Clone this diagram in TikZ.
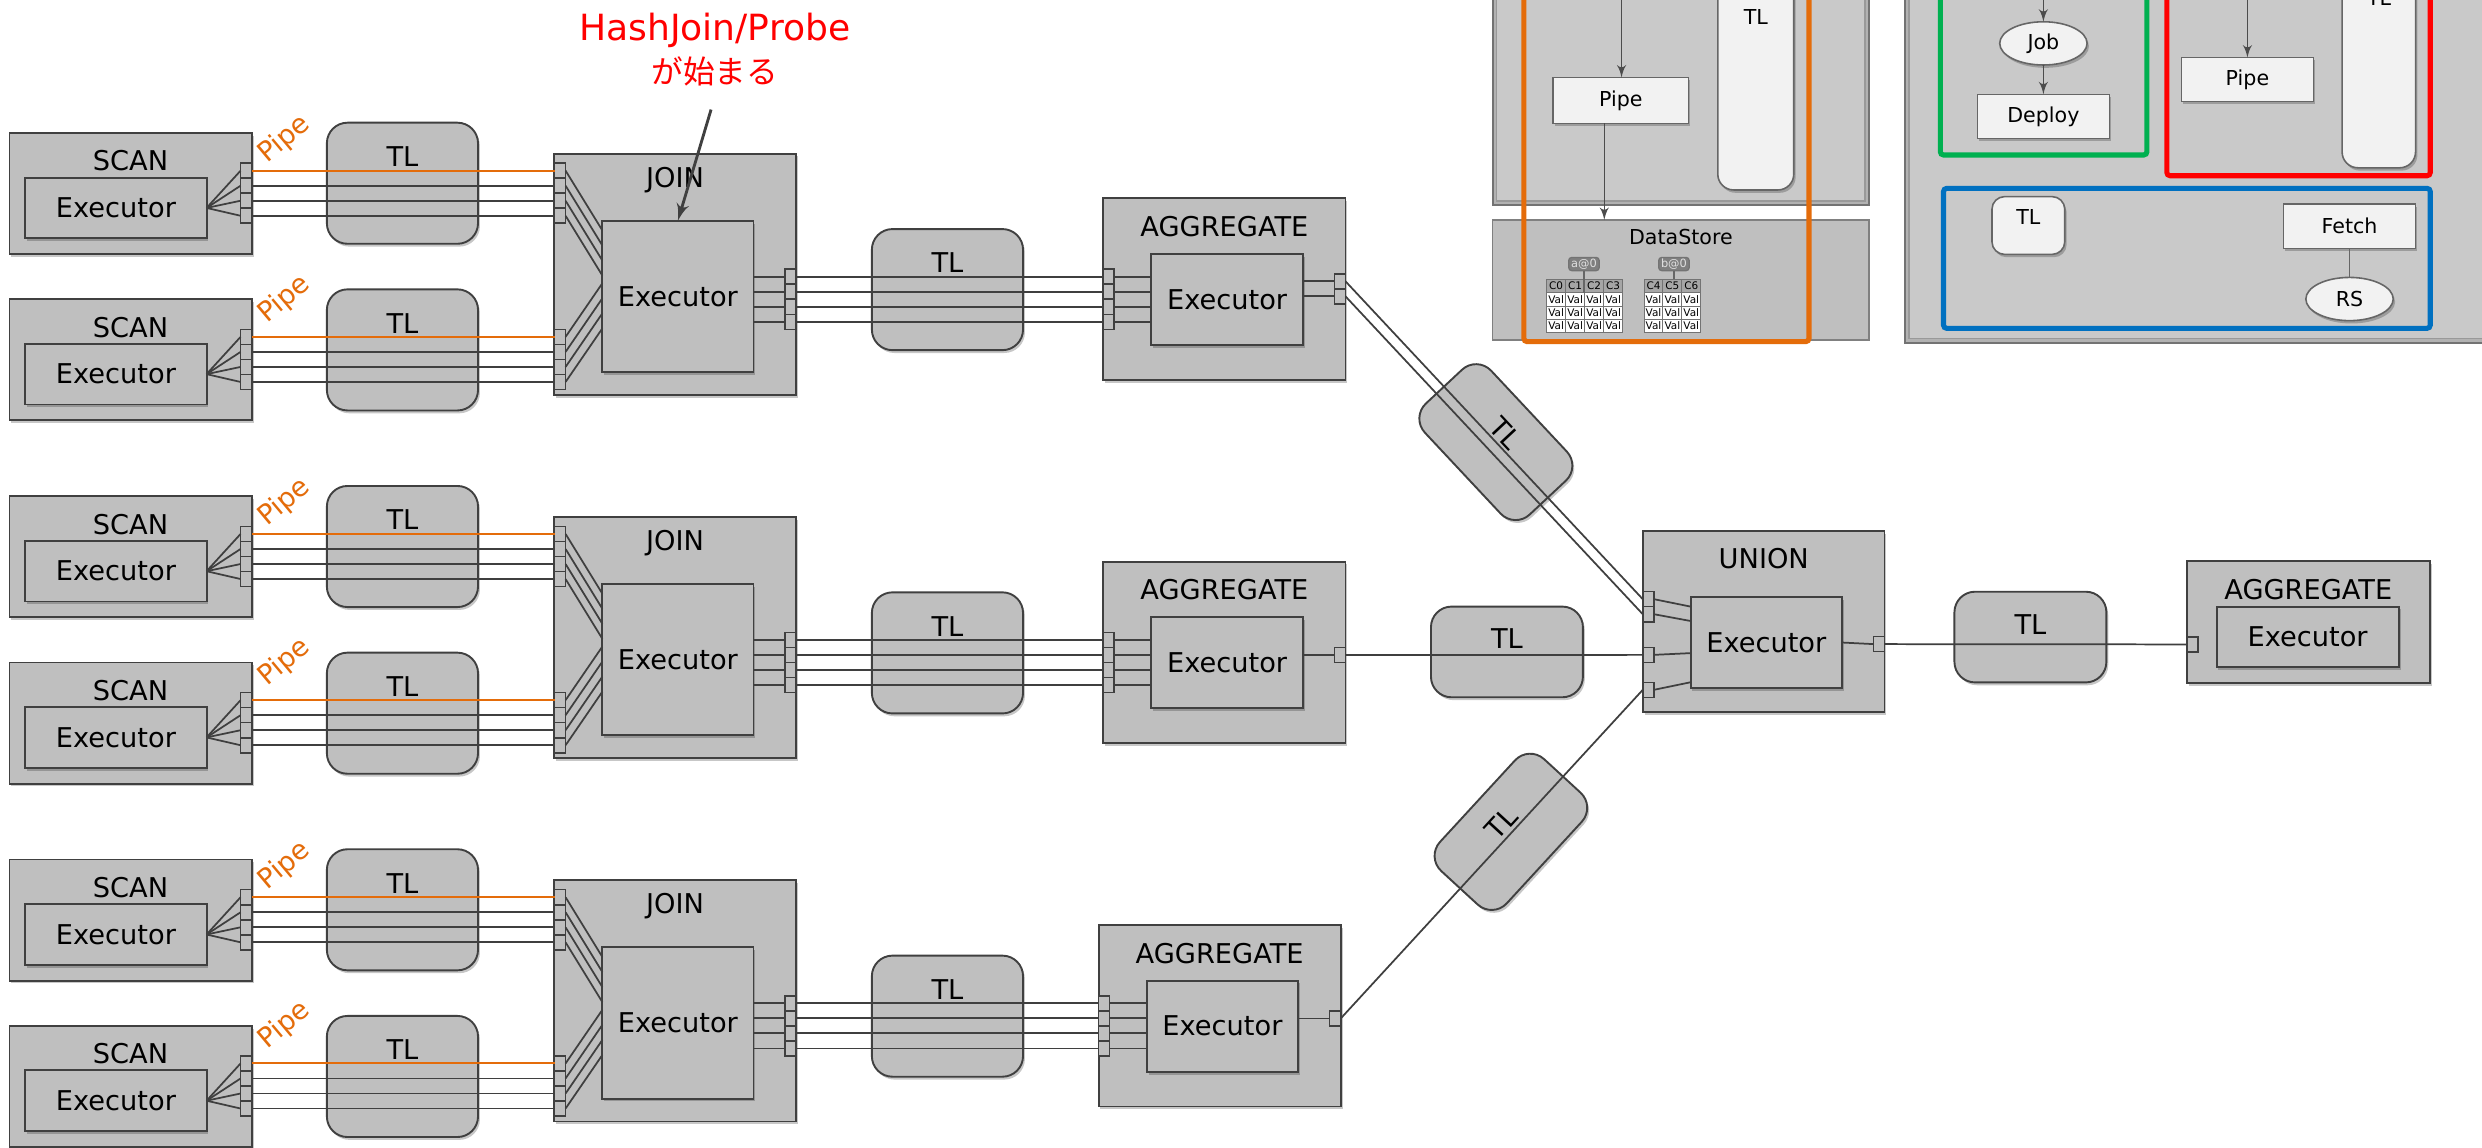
\documentclass[tikz,border=0pt]{standalone}
\usepackage{fontspec}
\setmainfont{DejaVu Sans}
\newfontfamily\jpfont{Noto Sans CJK JP}
\usetikzlibrary{shapes.geometric, arrows, positioning, calc, shadows}

\definecolor{boxgray}{HTML}{BFBFBF}
\definecolor{linegray}{HTML}{404040}
\definecolor{wiregray}{HTML}{3F3F3F}
\definecolor{pipeorange}{HTML}{E46C0A}
\definecolor{panelgray}{HTML}{C9C9C9}
\definecolor{paleg}{HTML}{F2F2F2}
\definecolor{cellgray}{HTML}{A6A6A6}
\definecolor{tagfill}{HTML}{7F7F7F}
\definecolor{grnline}{HTML}{00B050}
\definecolor{redline}{HTML}{FF0000}
\definecolor{blueline}{HTML}{0070C0}

\begin{document}
\begin{tikzpicture}[
        x=0.5pt, y=-0.5pt,
        font=\fontsize{8.6}{10}\selectfont,
        softshadow/.style={drop shadow={shadow xshift=0.6pt, shadow yshift=-0.9pt, opacity=0.22, fill=black}},
        opbox/.style={rectangle, draw=linegray, fill=boxgray, line width=0.6pt, anchor=north west, inner sep=0pt, outer sep=0pt, softshadow},
        boxtitle/.style={anchor=center, inner sep=0pt},
        tlbox/.style={rectangle, rounded corners=6.5pt, draw=linegray, fill=boxgray, line width=0.6pt, inner sep=0pt, outer sep=0pt, minimum width=47.75pt, minimum height=38.25pt, text height=6.3pt, text depth=16.8pt, softshadow},
        tlshort/.style={tlbox, minimum width=48pt, minimum height=28.65pt, text depth=8.2pt},
        port/.style={rectangle, draw=linegray, fill=boxgray, line width=0.5pt, inner sep=0pt, outer sep=0pt, minimum width=3.5pt, minimum height=4.75pt},
        wire/.style={draw=wiregray, line width=0.55pt},
        pipewire/.style={draw=pipeorange, line width=0.65pt},
        pipelabel/.style={text=pipeorange, rotate=40},
        callarrow/.style={draw=linegray, line width=0.9pt, -latex', shorten <=4pt},
        panelbase/.style={draw=black!55, fill=black!30, line width=0.6pt},
        panelfill/.style={draw=black!40, fill=panelgray, line width=0.5pt},
        litebox/.style={rectangle, draw=black!60, fill=paleg, line width=0.5pt, inner sep=0pt, outer sep=0pt, font=\fontsize{6.5}{7}\selectfont, softshadow},
        liteoval/.style={litebox, ellipse},
        litetext/.style={font=\fontsize{6.5}{7}\selectfont},
        dsbox/.style={rectangle, draw=black!50, fill=boxgray, line width=0.5pt, anchor=north west, inner sep=0pt, outer sep=0pt},
        hlframe/.style={draw=#1, line width=1.6pt, rounded corners=1pt},
        flowarrow/.style={draw=black!70, line width=0.4pt, -latex'},
        thinline/.style={draw=black!60, line width=0.4pt},
        cellhead/.style={rectangle, draw=black!55, fill=cellgray, line width=0.3pt, anchor=north west, inner sep=0pt, minimum width=6pt, minimum height=4.2pt, font=\fontsize{3.3}{3.5}\selectfont},
        cellval/.style={cellhead, fill=white},
        tagbox/.style={rectangle, rounded corners=1pt, draw=black!55, fill=tagfill, text=black!12, inner sep=0pt, outer sep=0pt, minimum width=9.65pt, minimum height=4.2pt, font=\fontsize{3.6}{4}\selectfont}
    ]
        \useasboundingbox (0,0) rectangle (1568,725);
        \fill[white] (0,0) rectangle (1568,725);
        \clip (0,0) rectangle (1568,725);

        % Scan / join / aggregate pipelines
        \foreach \k/\dy/\agx in {1/0/697, 2/229.5/697, 3/459/694} {
            \node[opbox, minimum width=76.5pt, minimum height=38.25pt, label={[boxtitle, yshift=-8.85pt]north:SCAN}] (sa\k) at (6,84+\dy) {};
            \node[opbox, minimum width=57.25pt, minimum height=19.15pt] (sae\k) at (16,112.2+\dy) {Executor};
            \node[opbox, minimum width=76.5pt, minimum height=38.25pt, label={[boxtitle, yshift=-8.85pt]north:SCAN}] (sb\k) at (6,189+\dy) {};
            \node[opbox, minimum width=57.25pt, minimum height=19.15pt] (sbe\k) at (16,217.2+\dy) {Executor};
            \node[tlbox, anchor=north west] (tla\k) at (206.5,77.5+\dy) {TL};
            \node[tlbox, anchor=north west] (tlb\k) at (206.5,182.8+\dy) {TL};
            \node[pipelabel] (pipa\k) at (179.8,88+\dy) {Pipe};
            \node[pipelabel] (pipb\k) at (179.8,189+\dy) {Pipe};

            \node[opbox, minimum width=76.5pt, minimum height=76.25pt, label={[boxtitle, yshift=-8.35pt]north:JOIN}] (jn\k) at (350,97+\dy) {};
            \node[opbox, minimum width=47.75pt, minimum height=47.75pt] (je\k) at (380.5,139.5+\dy) {Executor};
            \node[tlbox, anchor=north west] (tlc\k) at (550.8,144.7+\dy) {TL};

            \node[opbox, minimum width=76.5pt, minimum height=57.35pt, label={[boxtitle, yshift=-8.95pt]north:AGGREGATE}] (ag\k) at (\agx,125.3+\dy) {};
            \node[opbox, minimum width=47.85pt, minimum height=28.75pt] (age\k) at (\agx+30.4,160.5+\dy) {Executor};

            \foreach \i/\w in {1/pipewire, 2/wire, 3/wire, 4/wire} {
                \node[port] (sap\k\i) at (155.5,98.3+9.5*\i+\dy) {};
                \node[port] (sbp\k\i) at (155.5,203.3+9.5*\i+\dy) {};
                \node[port] (jap\k\i) at (353.8,98.3+9.5*\i+\dy) {};
                \node[port] (jbp\k\i) at (353.8,203.3+9.5*\i+\dy) {};
                \node[port] (jop\k\i) at (499.5,165.3+9.5*\i+\dy) {};
                \node[port] (aip\k\i) at (\agx+3.4,165.3+9.5*\i+\dy) {};

                \draw[wire] (sae\k.east) -- (sap\k\i.west);
                \draw[wire] (sbe\k.east) -- (sbp\k\i.west);
                \draw[\w] (sap\k\i.east) -- (jap\k\i.west);
                \draw[\w] (sbp\k\i.east) -- (jbp\k\i.west);
                \draw[wire] (jap\k\i.east) -- ($(je\k.north west)+(0,9.5*\i-3.5)$);
                \draw[wire] (jbp\k\i.east) -- ($(je\k.north west)+(0,30+9.5*\i)$);
                \draw[wire] (je\k.east |- jop\k\i) -- (jop\k\i.west);
                \draw[wire] (jop\k\i.east) -- (aip\k\i.west);
                \draw[wire] (aip\k\i.east) -- (age\k.west |- aip\k\i);
            }
        }

        % Aggregate outputs
        \node[port] (aop11) at (846.5,177.7) {};
        \node[port] (aop12) at (846.5,187.2) {};
        \node[port] (aop2) at (846.5,413.8) {};
        \node[port] (aop3) at (843.5,643.4) {};
        \draw[wire] (age1.east |- aop11) -- (aop11.west);
        \draw[wire] (age1.east |- aop12) -- (aop12.west);
        \draw[wire] (age2.east |- aop2) -- (aop2.west);
        \draw[wire] (age3.east |- aop3) -- (aop3.west);

        % Union
        \node[opbox, minimum width=76.25pt, minimum height=57.25pt, label={[boxtitle, yshift=-8.75pt]north:UNION}] (un) at (1038,335.5) {};
        \node[opbox, minimum width=47.85pt, minimum height=28.9pt] (une) at (1068,377) {Executor};
        \node[port] (unp1) at (1041.3,378.5) {};
        \node[port] (unp2) at (1041.3,388) {};
        \node[port] (unp3) at (1041.3,413.7) {};
        \node[port] (unp4) at (1041.3,435.8) {};
        \node[port] (uno) at (1187,406.9) {};

        % Final aggregate
        \node[opbox, minimum width=76.65pt, minimum height=38.45pt, label={[boxtitle, yshift=-9.15pt]north:AGGREGATE}] (fa) at (1381.6,354.4) {};
        \node[opbox, minimum width=57.5pt, minimum height=19.1pt] (fae) at (1400.3,383.2) {Executor};
        \node[port] (fai) at (1385.1,407.1) {};

        % Transfer links
        \node[tlshort, rotate=-46.9] (tlu) at (945,279.3) {TL};
        \node[tlshort, anchor=north west] (tlm) at (904,383.2) {TL};
        \node[tlshort, rotate=47.4] (tll) at (954.5,525.5) {TL};
        \node[tlshort, anchor=north west] (tlf) at (1234.7,373.8) {TL};

        \draw[wire] (aop11.east) -- (unp1.west);
        \draw[wire] (aop12.east) -- (unp2.west);
        \draw[wire] (aop2.east) -- (unp3.west);
        \draw[wire] (aop3.east) -- (unp4.west);
        \draw[wire] (unp1.east) -- ($(une.north west)+(0,6.2)$);
        \draw[wire] (unp2.east) -- ($(une.north west)+(0,15.3)$);
        \draw[wire] (unp3.east) -- ($(une.north west)+(0,35.6)$);
        \draw[wire] (unp4.east) -- ($(une.north west)+(0,54)$);
        \draw[wire] (une.east) -- (uno.west);
        \draw[wire] (uno.east) -- (fai.west);

        % Callout
        \node[text=redline, align=center, font=\fontsize{11.4}{13.5}\selectfont] (note) at (451.5,31.5) {HashJoin/Probe\\{\jpfont\fontsize{10}{13.5}\selectfont が始まる}};
        \draw[callarrow] (note.south) -- (je1.north);

        % Left panel with DataStore
        \draw[panelbase] (943,-10) rectangle (1180.7,129.5);
        \draw[panelfill] (945.5,-10) rectangle (1178.2,126.8);
        \node[litebox, minimum width=42.7pt, minimum height=14.45pt] (pipea) at (1023.9,63.45) {Pipe};
        \node[litebox, rounded corners=5pt, anchor=north west, minimum width=24pt, minimum height=75pt] (tlpa) at (1085.2,-30) {};
        \node[litetext] (tlpat) at (1109.2,10.5) {TL};
        \coordinate (ina) at (1024.4,-5);
        \draw[flowarrow] (ina) -- (ina |- pipea.north);
        \node[dsbox, minimum width=118.9pt, minimum height=37.9pt, label={[boxtitle, litetext, yshift=-5.5pt]north:DataStore}] (ds) at (943,139) {};
        \draw[flowarrow] ([xshift=-5.2pt]pipea.south) -- ([xshift=-5.2pt]pipea.south |- ds.north);

        \foreach \c in {0,1,2,3} {
            \node[cellhead] (ta\c) at (976.8+12*\c,176.2) {C\c};
            \foreach \r in {1,2,3}
                \node[cellval] (ta\c\r) at (976.8+12*\c,176.2+8.43*\r) {Val};
        }
        \foreach \c in {4,5,6} {
            \node[cellhead] (tb\c) at (1038.3+11.93*\c-47.72,176.2) {C\c};
            \foreach \r in {1,2,3}
                \node[cellval] (tb\c\r) at (1038.3+11.93*\c-47.72,176.2+8.43*\r) {Val};
        }
        \node[tagbox] (taga) at (1000.65,166.8) {a@0};
        \node[tagbox] (tagb) at (1057.5,166.8) {b@0};
        \draw[thinline] (taga.south) -- (taga.south |- ta1.south);
        \draw[thinline] (tagb.south) -- (tagb.south |- tb5.north);
        \draw[hlframe=pipeorange] (962.7,-10) rectangle (1142.8,215.8);

        % Right panel
        \draw[panelbase] (1203.4,-10) rectangle (1580,216.5);
        \draw[panelfill] (1206,-10) rectangle (1580,213.8);
        \coordinate (inj) at (1290.9,-5);
        \node[liteoval, minimum width=27.6pt, minimum height=13.65pt] (job) at (1290.9,27.4) {Job};
        \node[litebox, minimum width=41.7pt, minimum height=13.9pt] (deploy) at (1290.9,73.5) {Deploy};
        \draw[flowarrow] (inj) -- (job);
        \draw[flowarrow] (job) -- (deploy);
        \draw[hlframe=grnline] (1225.8,-10) rectangle (1356.3,97.9);

        \coordinate (inb) at (1419.8,-5);
        \node[litebox, minimum width=41.7pt, minimum height=13.9pt] (pipeb) at (1419.8,50.3) {Pipe};
        \node[litebox, rounded corners=5pt, anchor=north west, minimum width=23.2pt, minimum height=73pt] (tlpb) at (1479.6,-40) {};
        \node[litetext] (tlpbt) at (1503,-1) {TL};
        \draw[flowarrow] (inb) -- (pipeb);
        \draw[hlframe=redline] (1368.9,-10) rectangle (1535.3,111);

        \node[litebox, rounded corners=4pt, anchor=north west, minimum width=23pt, minimum height=18.25pt] (tls) at (1258.4,124.2) {};
        \node[litetext] (tlst) at (1281.4,136.9) {TL};
        \node[litebox, minimum width=41.7pt, minimum height=14pt] (fetch) at (1484.3,142.9) {Fetch};
        \node[liteoval, minimum width=27.6pt, minimum height=13.65pt] (rs) at (1484.3,188.9) {RS};
        \draw[thinline] (fetch) -- (rs);
        \draw[hlframe=blueline] (1227.8,119) rectangle (1535.3,207.4);
\end{tikzpicture}
\end{document}
